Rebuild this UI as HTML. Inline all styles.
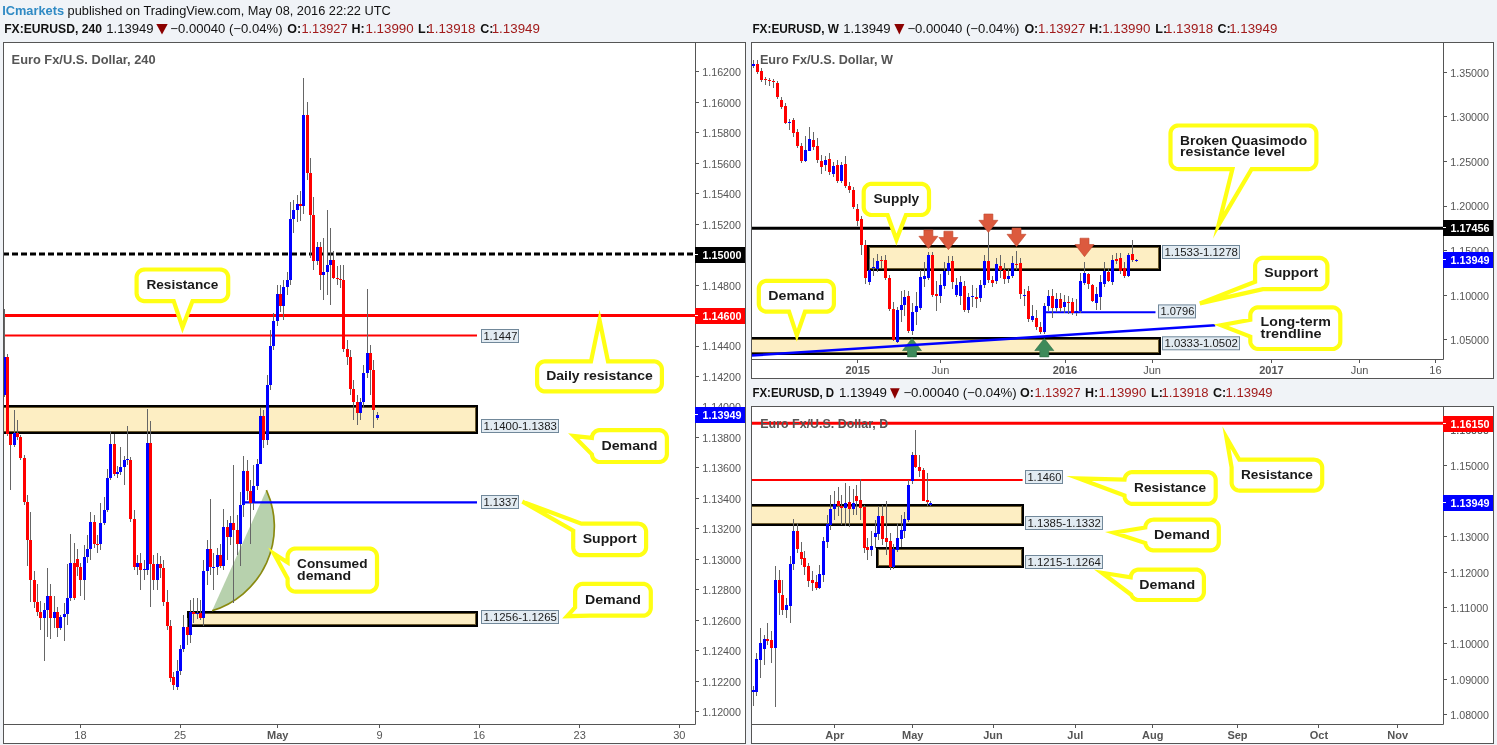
<!DOCTYPE html><html><head><meta charset="utf-8"><style>html,body{margin:0;padding:0;overflow:hidden;background:#f0f3f7;}svg{display:block;will-change:transform;}</style></head><body><svg width="1497" height="745" viewBox="0 0 1497 745" font-family="Liberation Sans, sans-serif">
<defs><clipPath id="cL"><rect x="4" y="43" width="691" height="681"/></clipPath><clipPath id="cW"><rect x="752" y="43" width="691" height="316"/></clipPath><clipPath id="cD"><rect x="752" y="407" width="691" height="317"/></clipPath></defs>
<rect width="1497" height="745" fill="#f0f3f7"/>
<rect x="3.5" y="42.5" width="742" height="701" fill="#fff" stroke="#555" stroke-width="1"/><path d="M695.5 42V724.5H3" stroke="#555" stroke-width="1" fill="none"/>
<g clip-path="url(#cL)">
<rect x="-10" y="405" width="488" height="29" fill="#fdeec3"/><rect x="-9" y="406" width="486" height="27" fill="none" stroke="#000" stroke-width="2"/><rect x="-7.5" y="407.5" width="483" height="24" fill="none" stroke="#6b5a2e" stroke-width="1"/>
<rect x="187" y="611" width="291" height="16" fill="#fdeec3"/><rect x="188" y="612" width="289" height="14" fill="none" stroke="#000" stroke-width="2"/><rect x="189.5" y="613.5" width="286" height="11" fill="none" stroke="#6b5a2e" stroke-width="1"/>
<path d="M3 254H695" stroke="#000" stroke-width="3" stroke-dasharray="6 3"/>
<path d="M3 315.5H695" stroke="#ff0000" stroke-width="3"/>
<path d="M3 335.5H477" stroke="#ff0000" stroke-width="2"/>
<path d="M266.4 490.1 A88 88 0 0 1 212.1 610.8 Z" fill="#5f9a4a" fill-opacity="0.45"/>
<path d="M266.4 490.1 A88 88 0 0 1 212.1 610.8" fill="none" stroke="#8a8a10" stroke-width="1.7"/>
<path d="M243 502.4H477" stroke="#0000ff" stroke-width="2.4"/>
<path d="M4.5 309V397M7.5 354V436M10.5 436V490M14.5 410V447M17.5 420V440M20.5 435V460M24.5 455V505M27.5 495V566M30.5 512V602M34.5 571V608M37.5 584V616M40.5 601V630M44.5 603V661M47.5 568V637M50.5 584V639M54.5 596V628M57.5 607V637M60.5 615V630M64.5 603V641M67.5 564V625M70.5 534V601M74.5 543V600M77.5 549V576M80.5 563V596M84.5 545V600M87.5 535V563M90.5 512V560M94.5 515V548M97.5 535V553M100.5 503V550M104.5 497V525M107.5 469V512M110.5 431V480M114.5 434V476M117.5 466V478M120.5 447V475M124.5 456V485M127.5 426V465M130.5 457V522M134.5 510V570M137.5 555V575M140.5 553V590M144.5 560V580M147.5 409V575M150.5 421V607M153.5 555V590M157.5 553V590M160.5 556V578M163.5 560V606M167.5 590V630M170.5 620V682M173.5 672V690M177.5 660V690M180.5 645V675M183.5 615V652M187.5 618V645M190.5 600V643M193.5 598V623M197.5 598V619M200.5 600V620M203.5 560V626M207.5 540V585M210.5 499V575M213.5 553V590M217.5 548V575M220.5 544V568M223.5 509V570M227.5 520V560M230.5 516V545M233.5 465V603M237.5 515V555M240.5 492V566M243.5 456V517M247.5 460V500M250.5 480V544M253.5 465V510M257.5 459V490M260.5 408V453M263.5 410V448M267.5 375V445M270.5 330V390M273.5 313V350M277.5 285V326M280.5 285V312M283.5 280V320M287.5 272V295M290.5 202V285M293.5 200V233M297.5 195V222M300.5 191V221M303.5 78V214M307.5 102V180M310.5 158V258M313.5 197V270M317.5 242V265M320.5 242V290M323.5 238V300M327.5 210V295M330.5 228V305M333.5 251V279M337.5 266V285M340.5 265V288M343.5 265V352M347.5 340V365M350.5 350V395M353.5 380V420M357.5 395V425M360.5 398V420M363.5 365V408M367.5 289V378M370.5 345V395M373.5 360V428M377.5 412V420" stroke="#666" stroke-width="1" fill="none"/>
<path d="M3 357h3v38h-3zM13 433h3v12h-3zM43 610h3v8h-3zM46 596h3v14h-3zM53 612h3v6h-3zM59 617h3v11h-3zM63 614h3v3h-3zM66 598h3v16h-3zM69 563h3v35h-3zM83 557h3v23h-3zM86 549h3v8h-3zM89 522h3v27h-3zM99 523h3v21h-3zM103 510h3v13h-3zM106 478h3v32h-3zM109 444h3v34h-3zM116 472h3v2h-3zM119 467h3v5h-3zM123 460h3v7h-3zM126 459h3v1h-3zM136 563h3v4h-3zM143 569h3v1h-3zM146 443h3v127h-3zM156 564h3v16h-3zM176 671h3v16h-3zM179 649h3v22h-3zM182 627h3v22h-3zM189 612h3v23h-3zM196 613h3v1h-3zM202 571h3v47h-3zM206 549h3v22h-3zM212 567h3v1h-3zM216 555h3v12h-3zM222 527h3v39h-3zM229 523h3v14h-3zM239 505h3v39h-3zM242 471h3v34h-3zM252 486h3v17h-3zM256 464h3v22h-3zM259 416h3v48h-3zM266 385h3v55h-3zM269 346h3v39h-3zM272 321h3v25h-3zM276 294h3v27h-3zM282 287h3v19h-3zM286 280h3v7h-3zM289 219h3v61h-3zM292 210h3v9h-3zM296 204h3v6h-3zM302 115h3v91h-3zM316 247h3v14h-3zM322 272h3v3h-3zM326 265h3v7h-3zM329 260h3v5h-3zM359 402h3v11h-3zM362 373h3v29h-3zM366 353h3v20h-3zM376 415h3v3h-3z" fill="#0000ff"/>
<path d="M6 357h3v77h-3zM9 434h3v11h-3zM16 433h3v4h-3zM19 437h3v21h-3zM23 458h3v44h-3zM26 502h3v38h-3zM29 540h3v40h-3zM33 580h3v22h-3zM36 602h3v10h-3zM39 612h3v6h-3zM49 596h3v22h-3zM56 612h3v16h-3zM73 563h3v35h-3zM76 559h3v8h-3zM79 567h3v13h-3zM93 522h3v22h-3zM96 544h3v1h-3zM113 444h3v30h-3zM129 460h3v59h-3zM133 519h3v48h-3zM139 563h3v7h-3zM149 443h3v121h-3zM152 564h3v16h-3zM159 564h3v4h-3zM162 568h3v34h-3zM166 602h3v24h-3zM169 626h3v52h-3zM172 677h3v8h-3zM186 627h3v8h-3zM192 612h3v2h-3zM199 613h3v5h-3zM209 549h3v18h-3zM219 555h3v11h-3zM226 527h3v10h-3zM232 523h3v7h-3zM236 530h3v14h-3zM246 471h3v20h-3zM249 491h3v12h-3zM262 416h3v24h-3zM279 294h3v12h-3zM299 204h3v2h-3zM306 115h3v58h-3zM309 173h3v42h-3zM312 215h3v46h-3zM319 247h3v28h-3zM332 260h3v18h-3zM336 278h3v1h-3zM339 279h3v1h-3zM342 280h3v69h-3zM346 349h3v8h-3zM349 357h3v32h-3zM352 389h3v13h-3zM356 402h3v11h-3zM369 353h3v17h-3zM372 370h3v40h-3z" fill="#ff0000"/>
<text x="11.6" y="63.8" font-size="12.8" font-weight="bold" fill="#555" textLength="144" lengthAdjust="spacingAndGlyphs">Euro Fx/U.S. Dollar, 240</text>
<path d="M173.70 301.10 L172.21 301.10 L170.72 301.10 L169.24 301.10 L167.75 301.10 L166.26 301.10 L164.77 301.10 L163.29 301.10 L161.80 301.10 L160.31 301.10 L158.82 301.10 L157.34 301.10 L155.85 301.10 L154.36 301.10 L152.87 301.10 L151.39 301.10 L149.90 301.10 L148.41 301.10 L146.92 301.10 L145.44 301.10 L144.09 301.08 L142.93 300.92 L141.81 300.60 L140.75 300.11 L139.77 299.48 L138.89 298.71 L138.14 297.82 L137.52 296.83 L137.05 295.76 L136.75 294.63 L136.61 293.47 L136.60 292.08 L136.60 290.60 L136.60 289.11 L136.60 287.62 L136.60 286.13 L136.60 284.65 L136.60 283.16 L136.60 281.67 L136.60 280.18 L136.60 278.70 L136.60 277.27 L136.72 276.11 L137.01 274.98 L137.46 273.90 L138.06 272.90 L138.79 272.00 L139.66 271.21 L140.63 270.56 L141.68 270.05 L142.79 269.71 L143.95 269.53 L145.25 269.50 L146.74 269.50 L148.23 269.50 L149.72 269.50 L151.20 269.50 L152.69 269.50 L154.18 269.50 L155.67 269.50 L157.15 269.50 L158.64 269.50 L160.13 269.50 L161.62 269.50 L163.11 269.50 L164.59 269.50 L166.08 269.50 L167.57 269.50 L169.06 269.50 L170.54 269.50 L172.03 269.50 L173.52 269.50 L175.01 269.50 L176.49 269.50 L177.98 269.50 L179.47 269.50 L180.96 269.50 L182.44 269.50 L183.93 269.50 L185.42 269.50 L186.91 269.50 L188.39 269.50 L189.88 269.50 L191.37 269.50 L192.86 269.50 L194.34 269.50 L195.83 269.50 L197.32 269.50 L198.81 269.50 L200.29 269.50 L201.78 269.50 L203.27 269.50 L204.76 269.50 L206.25 269.50 L207.73 269.50 L209.22 269.50 L210.71 269.50 L212.20 269.50 L213.68 269.50 L215.17 269.50 L216.66 269.50 L218.15 269.50 L219.63 269.50 L220.92 269.53 L222.07 269.72 L223.19 270.08 L224.23 270.59 L225.20 271.25 L226.05 272.05 L226.78 272.96 L227.38 273.96 L227.81 275.04 L228.09 276.18 L228.20 277.34 L228.20 278.78 L228.20 280.27 L228.20 281.76 L228.20 283.25 L228.20 284.73 L228.20 286.22 L228.20 287.71 L228.20 289.20 L228.20 290.68 L228.20 292.17 L228.19 293.54 L228.04 294.70 L227.72 295.82 L227.25 296.89 L226.62 297.87 L225.86 298.76 L224.97 299.52 L223.99 300.15 L222.92 300.62 L221.80 300.94 L220.64 301.09 L219.28 301.10 L217.79 301.10 L216.30 301.10 L214.81 301.10 L213.33 301.10 L211.84 301.10 L210.35 301.10 L208.86 301.10 L207.38 301.10 L205.89 301.10 L204.40 301.10 L202.91 301.10 L201.43 301.10 L199.94 301.10 L198.45 301.10 L196.96 301.10 L195.48 301.10 L193.99 301.10 L192.50 301.10 L182.52 327.26 Z" fill="#fff" stroke="#ffff14" stroke-width="4.2" stroke-linejoin="miter" stroke-miterlimit="10"/>
<text x="182.4" y="289.0" font-size="12.5" font-weight="bold" fill="#1a1a1a" text-anchor="middle" textLength="72" lengthAdjust="spacingAndGlyphs">Resistance</text>
<path d="M608.00 361.40 L609.49 361.40 L610.97 361.40 L612.46 361.40 L613.94 361.40 L615.43 361.40 L616.91 361.40 L618.40 361.40 L619.88 361.40 L621.37 361.40 L622.85 361.40 L624.34 361.40 L625.82 361.40 L627.31 361.40 L628.79 361.40 L630.28 361.40 L631.76 361.40 L633.25 361.40 L634.74 361.40 L636.22 361.40 L637.71 361.40 L639.19 361.40 L640.68 361.40 L642.16 361.40 L643.65 361.40 L645.13 361.40 L646.62 361.40 L648.10 361.40 L649.59 361.40 L651.07 361.40 L652.56 361.40 L654.01 361.40 L655.17 361.50 L656.31 361.77 L657.39 362.20 L658.40 362.79 L659.31 363.51 L660.11 364.36 L660.78 365.31 L661.30 366.36 L661.66 367.46 L661.86 368.61 L661.90 369.88 L661.90 371.37 L661.90 372.85 L661.90 374.34 L661.90 375.82 L661.90 377.31 L661.90 378.79 L661.90 380.28 L661.90 381.76 L661.90 383.25 L661.83 384.45 L661.60 385.59 L661.20 386.68 L660.64 387.71 L659.94 388.64 L659.12 389.46 L658.18 390.16 L657.16 390.71 L656.06 391.10 L654.92 391.34 L653.71 391.40 L652.23 391.40 L650.74 391.40 L649.26 391.40 L647.77 391.40 L646.29 391.40 L644.80 391.40 L643.32 391.40 L641.83 391.40 L640.35 391.40 L638.86 391.40 L637.37 391.40 L635.89 391.40 L634.40 391.40 L632.92 391.40 L631.43 391.40 L629.95 391.40 L628.46 391.40 L626.98 391.40 L625.49 391.40 L624.01 391.40 L622.52 391.40 L621.04 391.40 L619.55 391.40 L618.07 391.40 L616.58 391.40 L615.10 391.40 L613.61 391.40 L612.12 391.40 L610.64 391.40 L609.15 391.40 L607.67 391.40 L606.18 391.40 L604.70 391.40 L603.21 391.40 L601.73 391.40 L600.24 391.40 L598.76 391.40 L597.27 391.40 L595.79 391.40 L594.30 391.40 L592.82 391.40 L591.33 391.40 L589.85 391.40 L588.36 391.40 L586.88 391.40 L585.39 391.40 L583.90 391.40 L582.42 391.40 L580.93 391.40 L579.45 391.40 L577.96 391.40 L576.48 391.40 L574.99 391.40 L573.51 391.40 L572.02 391.40 L570.54 391.40 L569.05 391.40 L567.57 391.40 L566.08 391.40 L564.60 391.40 L563.11 391.40 L561.63 391.40 L560.14 391.40 L558.65 391.40 L557.17 391.40 L555.68 391.40 L554.20 391.40 L552.71 391.40 L551.23 391.40 L549.74 391.40 L548.26 391.40 L546.77 391.40 L545.29 391.40 L544.08 391.34 L542.94 391.10 L541.84 390.71 L540.82 390.16 L539.88 389.46 L539.06 388.64 L538.36 387.71 L537.80 386.68 L537.40 385.59 L537.17 384.45 L537.10 383.25 L537.10 381.76 L537.10 380.28 L537.10 378.79 L537.10 377.31 L537.10 375.82 L537.10 374.34 L537.10 372.85 L537.10 371.37 L537.10 369.88 L537.14 368.61 L537.34 367.46 L537.70 366.36 L538.22 365.31 L538.89 364.36 L539.69 363.51 L540.60 362.79 L541.61 362.20 L542.69 361.77 L543.83 361.50 L544.99 361.40 L546.44 361.40 L547.93 361.40 L549.41 361.40 L550.90 361.40 L552.38 361.40 L553.87 361.40 L555.35 361.40 L556.84 361.40 L558.32 361.40 L559.81 361.40 L561.29 361.40 L562.78 361.40 L564.26 361.40 L565.75 361.40 L567.24 361.40 L568.72 361.40 L570.21 361.40 L571.69 361.40 L573.18 361.40 L574.66 361.40 L576.15 361.40 L577.63 361.40 L579.12 361.40 L580.60 361.40 L582.09 361.40 L583.57 361.40 L585.06 361.40 L586.54 361.40 L588.03 361.40 L589.51 361.40 L591.00 361.40 L599.58 320.15 Z" fill="#fff" stroke="#ffff14" stroke-width="4.2" stroke-linejoin="miter" stroke-miterlimit="10"/>
<text x="599.5" y="380.1" font-size="12.5" font-weight="bold" fill="#1a1a1a" text-anchor="middle" textLength="106.6" lengthAdjust="spacingAndGlyphs">Daily resistance</text>
<path d="M591.90 437.86 L592.02 436.71 L592.31 435.58 L592.75 434.51 L593.35 433.51 L594.08 432.61 L594.94 431.82 L595.90 431.17 L596.95 430.66 L598.06 430.31 L599.21 430.13 L600.50 430.10 L601.98 430.10 L603.47 430.10 L604.95 430.10 L606.43 430.10 L607.91 430.10 L609.39 430.10 L610.88 430.10 L612.36 430.10 L613.84 430.10 L615.32 430.10 L616.80 430.10 L618.28 430.10 L619.77 430.10 L621.25 430.10 L622.73 430.10 L624.21 430.10 L625.69 430.10 L627.18 430.10 L628.66 430.10 L630.14 430.10 L631.62 430.10 L633.10 430.10 L634.59 430.10 L636.07 430.10 L637.55 430.10 L639.03 430.10 L640.51 430.10 L642.00 430.10 L643.48 430.10 L644.96 430.10 L646.44 430.10 L647.92 430.10 L649.41 430.10 L650.89 430.10 L652.37 430.10 L653.85 430.10 L655.33 430.10 L656.82 430.10 L658.30 430.10 L659.59 430.13 L660.74 430.31 L661.85 430.66 L662.89 431.17 L663.86 431.82 L664.72 432.61 L665.45 433.51 L666.05 434.51 L666.49 435.58 L666.78 436.71 L666.90 437.86 L666.90 439.28 L666.90 440.76 L666.90 442.25 L666.90 443.73 L666.90 445.21 L666.90 446.69 L666.90 448.17 L666.90 449.65 L666.90 451.14 L666.90 452.62 L666.90 454.08 L666.80 455.24 L666.54 456.37 L666.12 457.45 L665.54 458.46 L664.82 459.38 L663.98 460.18 L663.03 460.85 L661.99 461.38 L660.89 461.75 L659.75 461.96 L658.50 462.00 L657.02 462.00 L655.53 462.00 L654.05 462.00 L652.57 462.00 L651.09 462.00 L649.61 462.00 L648.12 462.00 L646.64 462.00 L645.16 462.00 L643.68 462.00 L642.20 462.00 L640.71 462.00 L639.23 462.00 L637.75 462.00 L636.27 462.00 L634.79 462.00 L633.30 462.00 L631.82 462.00 L630.34 462.00 L628.86 462.00 L627.38 462.00 L625.89 462.00 L624.41 462.00 L622.93 462.00 L621.45 462.00 L619.97 462.00 L618.48 462.00 L617.00 462.00 L615.52 462.00 L614.04 462.00 L612.56 462.00 L611.08 462.00 L609.59 462.00 L608.11 462.00 L606.63 462.00 L605.15 462.00 L603.67 462.00 L602.18 462.00 L600.70 462.00 L599.37 461.98 L598.21 461.82 L597.10 461.49 L596.04 461.01 L595.07 460.37 L594.19 459.61 L593.44 458.72 L592.82 457.73 L592.36 456.67 L592.05 455.55 L591.91 454.39 L573.68 436.00 Z" fill="#fff" stroke="#ffff14" stroke-width="4.2" stroke-linejoin="miter" stroke-miterlimit="10"/>
<text x="629.4" y="449.8" font-size="12.5" font-weight="bold" fill="#1a1a1a" text-anchor="middle" textLength="56" lengthAdjust="spacingAndGlyphs">Demand</text>
<path d="M581.40 523.70 L582.88 523.70 L584.36 523.70 L585.84 523.70 L587.32 523.70 L588.80 523.70 L590.28 523.70 L591.76 523.70 L593.24 523.70 L594.72 523.70 L596.20 523.70 L597.68 523.70 L599.16 523.70 L600.64 523.70 L602.12 523.70 L603.60 523.70 L605.08 523.70 L606.56 523.70 L608.04 523.70 L609.52 523.70 L611.00 523.70 L612.48 523.70 L613.96 523.70 L615.44 523.70 L616.92 523.70 L618.40 523.70 L619.88 523.70 L621.36 523.70 L622.84 523.70 L624.32 523.70 L625.80 523.70 L627.28 523.70 L628.76 523.70 L630.25 523.70 L631.73 523.70 L633.21 523.70 L634.69 523.70 L636.17 523.70 L637.65 523.70 L638.90 523.74 L640.05 523.94 L641.15 524.30 L642.19 524.82 L643.14 525.49 L643.99 526.29 L644.71 527.19 L645.29 528.20 L645.72 529.28 L645.99 530.41 L646.10 531.56 L646.10 533.01 L646.10 534.49 L646.10 535.97 L646.10 537.45 L646.10 538.93 L646.10 540.41 L646.10 541.89 L646.10 543.37 L646.10 544.85 L646.10 546.33 L646.09 547.68 L645.93 548.83 L645.61 549.95 L645.14 551.01 L644.51 551.98 L643.75 552.86 L642.87 553.62 L641.89 554.24 L640.83 554.72 L639.71 555.04 L638.56 555.19 L637.21 555.20 L635.73 555.20 L634.25 555.20 L632.77 555.20 L631.29 555.20 L629.81 555.20 L628.33 555.20 L626.85 555.20 L625.37 555.20 L623.89 555.20 L622.41 555.20 L620.93 555.20 L619.45 555.20 L617.97 555.20 L616.49 555.20 L615.01 555.20 L613.53 555.20 L612.05 555.20 L610.57 555.20 L609.09 555.20 L607.61 555.20 L606.13 555.20 L604.65 555.20 L603.17 555.20 L601.69 555.20 L600.21 555.20 L598.73 555.20 L597.25 555.20 L595.76 555.20 L594.28 555.20 L592.80 555.20 L591.32 555.20 L589.84 555.20 L588.36 555.20 L586.88 555.20 L585.40 555.20 L583.92 555.20 L582.44 555.20 L581.01 555.20 L579.86 555.09 L578.73 554.81 L577.65 554.37 L576.65 553.78 L575.75 553.05 L574.96 552.20 L574.30 551.25 L573.79 550.20 L573.43 549.10 L573.24 547.95 L573.20 546.68 L573.20 545.20 L573.20 543.72 L573.20 542.24 L573.20 540.76 L573.20 539.28 L573.20 537.80 L573.20 536.32 L573.20 534.84 L573.20 533.36 L573.20 531.88 L573.27 530.68 L522.42 501.64 Z" fill="#fff" stroke="#ffff14" stroke-width="4.2" stroke-linejoin="miter" stroke-miterlimit="10"/>
<text x="609.6500000000001" y="543.2" font-size="12.5" font-weight="bold" fill="#1a1a1a" text-anchor="middle" textLength="54" lengthAdjust="spacingAndGlyphs">Support</text>
<path d="M287.60 562.50 L287.60 561.01 L287.60 559.52 L287.60 558.03 L287.60 556.54 L287.68 555.36 L287.93 554.22 L288.35 553.13 L288.91 552.11 L289.63 551.18 L290.47 550.36 L291.42 549.68 L292.46 549.14 L293.56 548.76 L294.71 548.55 L295.96 548.50 L297.45 548.50 L298.94 548.50 L300.43 548.50 L301.92 548.50 L303.41 548.50 L304.90 548.50 L306.39 548.50 L307.88 548.50 L309.37 548.50 L310.86 548.50 L312.35 548.50 L313.84 548.50 L315.33 548.50 L316.82 548.50 L318.31 548.50 L319.80 548.50 L321.29 548.50 L322.78 548.50 L324.27 548.50 L325.76 548.50 L327.26 548.50 L328.75 548.50 L330.24 548.50 L331.73 548.50 L333.22 548.50 L334.71 548.50 L336.20 548.50 L337.69 548.50 L339.18 548.50 L340.67 548.50 L342.16 548.50 L343.65 548.50 L345.14 548.50 L346.63 548.50 L348.12 548.50 L349.61 548.50 L351.10 548.50 L352.59 548.50 L354.08 548.50 L355.57 548.50 L357.06 548.50 L358.55 548.50 L360.04 548.50 L361.53 548.50 L363.03 548.50 L364.52 548.50 L366.01 548.50 L367.50 548.50 L368.99 548.50 L370.16 548.58 L371.30 548.84 L372.39 549.25 L373.41 549.83 L374.34 550.54 L375.15 551.38 L375.83 552.33 L376.36 553.37 L376.74 554.48 L376.95 555.63 L377.00 556.88 L377.00 558.37 L377.00 559.86 L377.00 561.35 L377.00 562.84 L377.00 564.33 L377.00 565.82 L377.00 567.31 L377.00 568.80 L377.00 570.30 L377.00 571.79 L377.00 573.28 L377.00 574.77 L377.00 576.26 L377.00 577.75 L377.00 579.24 L377.00 580.73 L377.00 582.22 L377.00 583.69 L376.90 584.85 L376.63 585.99 L376.20 587.08 L375.62 588.09 L374.90 589.01 L374.04 589.81 L373.08 590.48 L372.04 591.00 L370.93 591.36 L369.77 591.56 L368.50 591.60 L367.01 591.60 L365.52 591.60 L364.03 591.60 L362.53 591.60 L361.04 591.60 L359.55 591.60 L358.06 591.60 L356.57 591.60 L355.08 591.60 L353.59 591.60 L352.10 591.60 L350.61 591.60 L349.12 591.60 L347.63 591.60 L346.14 591.60 L344.65 591.60 L343.16 591.60 L341.67 591.60 L340.18 591.60 L338.69 591.60 L337.20 591.60 L335.71 591.60 L334.22 591.60 L332.73 591.60 L331.24 591.60 L329.75 591.60 L328.26 591.60 L326.76 591.60 L325.27 591.60 L323.78 591.60 L322.29 591.60 L320.80 591.60 L319.31 591.60 L317.82 591.60 L316.33 591.60 L314.84 591.60 L313.35 591.60 L311.86 591.60 L310.37 591.60 L308.88 591.60 L307.39 591.60 L305.90 591.60 L304.41 591.60 L302.92 591.60 L301.43 591.60 L299.94 591.60 L298.45 591.60 L296.96 591.60 L295.49 591.60 L294.33 591.50 L293.19 591.23 L292.10 590.80 L291.09 590.21 L290.18 589.48 L289.38 588.63 L288.71 587.67 L288.19 586.62 L287.83 585.51 L287.64 584.35 L287.60 583.07 L287.60 581.58 L287.60 580.09 L287.60 578.60 L273.97 553.75 Z" fill="#fff" stroke="#ffff14" stroke-width="4.2" stroke-linejoin="miter" stroke-miterlimit="10"/>
<text x="297.1" y="568.0" font-size="12.5" font-weight="bold" fill="#1a1a1a" text-anchor="start" textLength="70.4" lengthAdjust="spacingAndGlyphs">Consumed</text>
<text x="297.1" y="579.5" font-size="12.5" font-weight="bold" fill="#1a1a1a" text-anchor="start" textLength="54" lengthAdjust="spacingAndGlyphs">demand</text>
<path d="M575.10 607.50 L575.10 606.02 L575.10 604.54 L575.10 603.07 L575.10 601.59 L575.10 600.11 L575.10 598.63 L575.10 597.16 L575.10 595.68 L575.10 594.20 L575.10 592.72 L575.11 591.36 L575.26 590.21 L575.57 589.10 L576.04 588.04 L576.66 587.06 L577.41 586.17 L578.28 585.41 L579.26 584.78 L580.31 584.30 L581.43 583.98 L582.58 583.82 L583.91 583.80 L585.39 583.80 L586.86 583.80 L588.34 583.80 L589.82 583.80 L591.30 583.80 L592.78 583.80 L594.25 583.80 L595.73 583.80 L597.21 583.80 L598.69 583.80 L600.16 583.80 L601.64 583.80 L603.12 583.80 L604.60 583.80 L606.07 583.80 L607.55 583.80 L609.03 583.80 L610.51 583.80 L611.99 583.80 L613.46 583.80 L614.94 583.80 L616.42 583.80 L617.90 583.80 L619.37 583.80 L620.85 583.80 L622.33 583.80 L623.81 583.80 L625.28 583.80 L626.76 583.80 L628.24 583.80 L629.72 583.80 L631.20 583.80 L632.67 583.80 L634.15 583.80 L635.63 583.80 L637.11 583.80 L638.58 583.80 L640.06 583.80 L641.54 583.80 L642.97 583.80 L644.12 583.91 L645.25 584.18 L646.33 584.62 L647.33 585.20 L648.23 585.93 L649.03 586.78 L649.69 587.73 L650.20 588.77 L650.56 589.87 L650.76 591.01 L650.80 592.27 L650.80 593.75 L650.80 595.23 L650.80 596.70 L650.80 598.18 L650.80 599.66 L650.80 601.14 L650.80 602.62 L650.80 604.09 L650.80 605.57 L650.80 607.05 L650.77 608.35 L650.60 609.49 L650.25 610.60 L649.76 611.65 L649.11 612.61 L648.34 613.47 L647.44 614.21 L646.45 614.82 L645.39 615.27 L644.26 615.56 L643.11 615.69 L641.72 615.70 L640.24 615.70 L638.76 615.70 L637.29 615.70 L635.81 615.70 L634.33 615.70 L632.85 615.70 L631.38 615.70 L629.90 615.70 L628.42 615.70 L626.94 615.70 L625.46 615.70 L623.99 615.70 L622.51 615.70 L621.03 615.70 L619.55 615.70 L618.08 615.70 L616.60 615.70 L615.12 615.70 L613.64 615.70 L612.17 615.70 L610.69 615.70 L609.21 615.70 L607.73 615.70 L606.25 615.70 L604.78 615.70 L603.30 615.70 L601.82 615.70 L600.34 615.70 L598.87 615.70 L597.39 615.70 L595.91 615.70 L594.43 615.70 L592.96 615.70 L591.48 615.70 L590.00 615.70 L567.03 616.21 Z" fill="#fff" stroke="#ffff14" stroke-width="4.2" stroke-linejoin="miter" stroke-miterlimit="10"/>
<text x="612.95" y="603.5" font-size="12.5" font-weight="bold" fill="#1a1a1a" text-anchor="middle" textLength="56" lengthAdjust="spacingAndGlyphs">Demand</text>
<rect x="481.5" y="329.5" width="37" height="13" fill="#e2ebf2" stroke="#71889a" stroke-width="1"/><text x="483.4" y="340" font-size="10.2" fill="#1a1a1a" textLength="34" lengthAdjust="spacingAndGlyphs">1.1447</text>
<rect x="481.5" y="419.5" width="77" height="13" fill="#e2ebf2" stroke="#71889a" stroke-width="1"/><text x="483.4" y="430" font-size="10.2" fill="#1a1a1a" textLength="73.5" lengthAdjust="spacingAndGlyphs">1.1400-1.1383</text>
<rect x="481.5" y="495.5" width="37" height="13" fill="#e2ebf2" stroke="#71889a" stroke-width="1"/><text x="483.4" y="506" font-size="10.2" fill="#1a1a1a" textLength="34" lengthAdjust="spacingAndGlyphs">1.1337</text>
<rect x="481.5" y="610.5" width="77" height="13" fill="#e2ebf2" stroke="#71889a" stroke-width="1"/><text x="483.4" y="621" font-size="10.2" fill="#1a1a1a" textLength="73.5" lengthAdjust="spacingAndGlyphs">1.1256-1.1265</text>
</g>
<path d="M695 711.5h4" stroke="#555" stroke-width="1"/>
<text x="702.3" y="716.0859999999972" font-size="10.7" fill="#555">1.12000</text>
<path d="M695 681.5h4" stroke="#555" stroke-width="1"/>
<text x="702.3" y="685.6199999999972" font-size="10.7" fill="#555">1.12200</text>
<path d="M695 650.5h4" stroke="#555" stroke-width="1"/>
<text x="702.3" y="655.153999999997" font-size="10.7" fill="#555">1.12400</text>
<path d="M695 620.5h4" stroke="#555" stroke-width="1"/>
<text x="702.3" y="624.687999999997" font-size="10.7" fill="#555">1.12600</text>
<path d="M695 589.5h4" stroke="#555" stroke-width="1"/>
<text x="702.3" y="594.221999999997" font-size="10.7" fill="#555">1.12800</text>
<path d="M695 559.5h4" stroke="#555" stroke-width="1"/>
<text x="702.3" y="563.755999999997" font-size="10.7" fill="#555">1.13000</text>
<path d="M695 528.5h4" stroke="#555" stroke-width="1"/>
<text x="702.3" y="533.289999999997" font-size="10.7" fill="#555">1.13200</text>
<path d="M695 498.5h4" stroke="#555" stroke-width="1"/>
<text x="702.3" y="502.823999999997" font-size="10.7" fill="#555">1.13400</text>
<path d="M695 467.5h4" stroke="#555" stroke-width="1"/>
<text x="702.3" y="472.357999999997" font-size="10.7" fill="#555">1.13600</text>
<path d="M695 437.5h4" stroke="#555" stroke-width="1"/>
<text x="702.3" y="441.89199999999687" font-size="10.7" fill="#555">1.13800</text>
<path d="M695 407.5h4" stroke="#555" stroke-width="1"/>
<text x="702.3" y="411.42599999999686" font-size="10.7" fill="#555">1.14000</text>
<path d="M695 376.5h4" stroke="#555" stroke-width="1"/>
<text x="702.3" y="380.95999999999685" font-size="10.7" fill="#555">1.14200</text>
<path d="M695 346.5h4" stroke="#555" stroke-width="1"/>
<text x="702.3" y="350.49399999999684" font-size="10.7" fill="#555">1.14400</text>
<path d="M695 285.5h4" stroke="#555" stroke-width="1"/>
<text x="702.3" y="289.56199999999683" font-size="10.7" fill="#555">1.14800</text>
<path d="M695 224.5h4" stroke="#555" stroke-width="1"/>
<text x="702.3" y="228.62999999999676" font-size="10.7" fill="#555">1.15200</text>
<path d="M695 193.5h4" stroke="#555" stroke-width="1"/>
<text x="702.3" y="198.16399999999672" font-size="10.7" fill="#555">1.15400</text>
<path d="M695 163.5h4" stroke="#555" stroke-width="1"/>
<text x="702.3" y="167.6979999999967" font-size="10.7" fill="#555">1.15600</text>
<path d="M695 132.5h4" stroke="#555" stroke-width="1"/>
<text x="702.3" y="137.23199999999667" font-size="10.7" fill="#555">1.15800</text>
<path d="M695 102.5h4" stroke="#555" stroke-width="1"/>
<text x="702.3" y="106.76599999999665" font-size="10.7" fill="#555">1.16000</text>
<path d="M695 71.5h4" stroke="#555" stroke-width="1"/>
<text x="702.3" y="76.29999999999663" font-size="10.7" fill="#555">1.16200</text>
<rect x="695" y="247" width="50" height="16" fill="#000"/><path d="M695 254.5h3" stroke="#fff" stroke-width="1"/><text x="702.4" y="259" font-size="10.8" font-weight="bold" fill="#fff">1.15000</text>
<rect x="695" y="308" width="50" height="16" fill="#ff0000"/><path d="M695 315.5h3" stroke="#fff" stroke-width="1"/><text x="702.4" y="320" font-size="10.8" font-weight="bold" fill="#fff">1.14600</text>
<rect x="695" y="407" width="50" height="16" fill="#0000ff"/><path d="M695 414.5h3" stroke="#fff" stroke-width="1"/><text x="702.4" y="419" font-size="10.8" font-weight="bold" fill="#fff">1.13949</text>
<path d="M80.5 724v4" stroke="#555" stroke-width="1"/>
<text x="80.4" y="739" font-size="11" fill="#555" text-anchor="middle">18</text>
<path d="M180.5 724v4" stroke="#555" stroke-width="1"/>
<text x="180" y="739" font-size="11" fill="#555" text-anchor="middle">25</text>
<path d="M277.5 724v4" stroke="#555" stroke-width="1"/>
<text x="277.7" y="739" font-size="11" fill="#555" text-anchor="middle" font-weight="bold">May</text>
<path d="M379.5 724v4" stroke="#555" stroke-width="1"/>
<text x="379.6" y="739" font-size="11" fill="#555" text-anchor="middle">9</text>
<path d="M479.5 724v4" stroke="#555" stroke-width="1"/>
<text x="479" y="739" font-size="11" fill="#555" text-anchor="middle">16</text>
<path d="M579.5 724v4" stroke="#555" stroke-width="1"/>
<text x="579.7" y="739" font-size="11" fill="#555" text-anchor="middle">23</text>
<path d="M679.5 724v4" stroke="#555" stroke-width="1"/>
<text x="679.3" y="739" font-size="11" fill="#555" text-anchor="middle">30</text>
<rect x="751.5" y="42.5" width="742" height="336" fill="#fff" stroke="#555" stroke-width="1"/><path d="M1443.5 42V359.5H751" stroke="#555" stroke-width="1" fill="none"/>
<g clip-path="url(#cW)">
<rect x="867" y="245" width="294" height="26" fill="#fdeec3"/><rect x="868" y="246" width="292" height="24" fill="none" stroke="#000" stroke-width="2"/><rect x="869.5" y="247.5" width="289" height="21" fill="none" stroke="#6b5a2e" stroke-width="1"/>
<rect x="740" y="337" width="421" height="18" fill="#fdeec3"/><rect x="741" y="338" width="419" height="16" fill="none" stroke="#000" stroke-width="2"/><rect x="742.5" y="339.5" width="416" height="13" fill="none" stroke="#6b5a2e" stroke-width="1"/>
<path d="M751 228.3H1443" stroke="#000" stroke-width="3"/>
<path d="M1044.8 312.3H1155.5" stroke="#0000ff" stroke-width="2"/>
<path d="M753.5 60V68M757.5 60V74M761.5 68V82M765.5 77V85M769.5 78V86M773.5 79V88M777.5 81V99M781.5 97V109M785.5 103V124M789.5 119V130M793.5 118V137M797.5 129V148M801.5 143V163M805.5 136V162M809.5 127V151M813.5 132V150M817.5 138V163M821.5 155V174M825.5 156V171M829.5 153V175M833.5 162V177M837.5 160V183M841.5 162V183M845.5 156V188M849.5 182V193M853.5 187V209M857.5 204V226M861.5 216V255M865.5 240V284M869.5 259V285M873.5 258V276M877.5 254V272M881.5 256V268M885.5 255V280M889.5 275V311M893.5 302V341M897.5 307V343M901.5 291V322M904.5 290V316M908.5 291V333M912.5 303V335M916.5 292V325M920.5 270V310M924.5 262V287M928.5 252V280M932.5 252V297M936.5 281V311M940.5 274V303M944.5 262V289M948.5 256V275M952.5 256V289M956.5 278V297M960.5 276V305M964.5 281V312M968.5 293V313M972.5 285V307M976.5 288V308M980.5 280V302M984.5 255V288M988.5 224V283M992.5 276V287M996.5 258V284M1000.5 255V278M1004.5 263V284M1008.5 269V283M1012.5 256V278M1016.5 251V270M1020.5 258V299M1024.5 289V306M1028.5 286V322M1032.5 305V322M1036.5 310V330M1040.5 322V334M1044.5 303V334M1048.5 290V311M1052.5 289V318M1056.5 293V312M1060.5 293V312M1064.5 295V313M1068.5 296V314M1072.5 298V315M1076.5 299V316M1080.5 273V313M1084.5 262V285M1088.5 273V289M1092.5 284V302M1096.5 287V310M1100.5 275V310M1104.5 262V287M1108.5 268V282M1112.5 255V285M1116.5 253V264M1120.5 253V274M1124.5 262V278M1128.5 253V277M1132.5 240V262M1136.5 259V262" stroke="#666" stroke-width="1" fill="none"/>
<path d="M752 64h3v2h-3zM788 122h3v1h-3zM804 150h3v11h-3zM808 139h3v12h-3zM824 160h3v5h-3zM832 166h3v8h-3zM840 165h3v16h-3zM868 270h3v12h-3zM872 267h3v1h-3zM876 261h3v8h-3zM896 310h3v32h-3zM900 305h3v5h-3zM903 297h3v8h-3zM911 312h3v19h-3zM915 306h3v6h-3zM919 277h3v31h-3zM923 276h3v3h-3zM927 255h3v23h-3zM939 285h3v11h-3zM943 271h3v15h-3zM947 263h3v8h-3zM955 285h3v10h-3zM959 282h3v14h-3zM967 297h3v13h-3zM971 296h3v1h-3zM979 285h3v13h-3zM983 261h3v24h-3zM995 264h3v17h-3zM1007 276h3v3h-3zM1011 263h3v13h-3zM1023 295h3v1h-3zM1031 316h3v4h-3zM1043 306h3v26h-3zM1047 296h3v10h-3zM1055 299h3v9h-3zM1063 302h3v5h-3zM1075 311h3v2h-3zM1079 281h3v30h-3zM1083 273h3v10h-3zM1095 294h3v9h-3zM1099 282h3v15h-3zM1103 271h3v13h-3zM1111 260h3v22h-3zM1127 255h3v21h-3zM1135 260h3v1h-3z" fill="#0000ff"/>
<path d="M756 64h3v8h-3zM760 71h3v9h-3zM764 79h3v1h-3zM768 80h3v1h-3zM772 81h3v1h-3zM776 83h3v14h-3zM780 100h3v7h-3zM784 106h3v17h-3zM792 120h3v13h-3zM796 132h3v14h-3zM800 146h3v15h-3zM812 140h3v7h-3zM816 146h3v14h-3zM820 161h3v6h-3zM828 159h3v13h-3zM836 165h3v16h-3zM844 164h3v22h-3zM848 186h3v4h-3zM852 190h3v17h-3zM856 209h3v12h-3zM860 219h3v26h-3zM864 245h3v33h-3zM880 260h3v1h-3zM884 260h3v18h-3zM888 278h3v31h-3zM892 309h3v31h-3zM907 296h3v35h-3zM931 255h3v40h-3zM935 294h3v2h-3zM951 261h3v21h-3zM963 286h3v24h-3zM975 297h3v2h-3zM987 261h3v19h-3zM991 280h3v3h-3zM999 266h3v4h-3zM1003 270h3v9h-3zM1015 264h3v1h-3zM1019 263h3v31h-3zM1027 291h3v28h-3zM1035 318h3v9h-3zM1039 327h3v5h-3zM1051 296h3v12h-3zM1059 299h3v9h-3zM1067 302h3v1h-3zM1071 302h3v11h-3zM1087 274h3v10h-3zM1091 285h3v16h-3zM1107 272h3v9h-3zM1115 259h3v2h-3zM1119 258h3v13h-3zM1123 268h3v8h-3zM1131 254h3v6h-3z" fill="#ff0000"/>
<path d="M923.9 230h9v6.3h5l-9.5 12.2l-9.5 -12.2h5z" fill="#dc5a3e" stroke="#c0482e" stroke-width="0.6"/>
<path d="M943.9 231.2h9v6.3h5l-9.5 12.2l-9.5 -12.2h5z" fill="#dc5a3e" stroke="#c0482e" stroke-width="0.6"/>
<path d="M983.9 214h9v6.3h5l-9.5 12.2l-9.5 -12.2h5z" fill="#dc5a3e" stroke="#c0482e" stroke-width="0.6"/>
<path d="M1012.0 228h9v6.3h5l-9.5 12.2l-9.5 -12.2h5z" fill="#dc5a3e" stroke="#c0482e" stroke-width="0.6"/>
<path d="M1080.0 238.2h9v6.3h5l-9.5 12.2l-9.5 -12.2h5z" fill="#dc5a3e" stroke="#c0482e" stroke-width="0.6"/>
<path d="M907.5 356.9h9v-6.3h5l-9.5 -12.2l-9.5 12.2h5z" fill="#3d8a5a" stroke="#2d6a44" stroke-width="0.6"/>
<path d="M1039.8 356.9h9v-6.3h5l-9.5 -12.2l-9.5 12.2h5z" fill="#3d8a5a" stroke="#2d6a44" stroke-width="0.6"/>
<path d="M751.7 355.5L1215.2 325.3" stroke="#0000ff" stroke-width="2.5"/>
<text x="759.9" y="63.9" font-size="12.8" font-weight="bold" fill="#555" textLength="133" lengthAdjust="spacingAndGlyphs">Euro Fx/U.S. Dollar, W</text>
<path d="M887.60 215.00 L886.12 215.00 L884.64 215.00 L883.16 215.00 L881.68 215.00 L880.20 215.00 L878.72 215.00 L877.24 215.00 L875.76 215.00 L874.28 215.00 L872.79 215.00 L871.40 214.99 L870.24 214.87 L869.12 214.57 L868.05 214.12 L867.06 213.51 L866.16 212.77 L865.38 211.91 L864.74 210.94 L864.24 209.89 L863.90 208.78 L863.73 207.63 L863.70 206.33 L863.70 204.85 L863.70 203.37 L863.70 201.89 L863.70 200.41 L863.70 198.93 L863.70 197.45 L863.70 195.97 L863.70 194.48 L863.70 193.00 L863.70 191.58 L863.82 190.43 L864.10 189.30 L864.54 188.23 L865.14 187.23 L865.87 186.32 L866.72 185.54 L867.68 184.88 L868.73 184.37 L869.83 184.02 L870.98 183.83 L872.26 183.80 L873.74 183.80 L875.22 183.80 L876.70 183.80 L878.18 183.80 L879.66 183.80 L881.14 183.80 L882.63 183.80 L884.11 183.80 L885.59 183.80 L887.07 183.80 L888.55 183.80 L890.03 183.80 L891.51 183.80 L892.99 183.80 L894.47 183.80 L895.95 183.80 L897.43 183.80 L898.91 183.80 L900.39 183.80 L901.87 183.80 L903.35 183.80 L904.83 183.80 L906.31 183.80 L907.79 183.80 L909.27 183.80 L910.76 183.80 L912.24 183.80 L913.72 183.80 L915.20 183.80 L916.68 183.80 L918.16 183.80 L919.64 183.80 L921.09 183.80 L922.25 183.90 L923.38 184.16 L924.46 184.59 L925.47 185.17 L926.38 185.88 L927.18 186.73 L927.85 187.68 L928.38 188.71 L928.75 189.81 L928.96 190.96 L929.00 192.20 L929.00 193.68 L929.00 195.17 L929.00 196.65 L929.00 198.13 L929.00 199.61 L929.00 201.09 L929.00 202.57 L929.00 204.05 L929.00 205.53 L929.00 207.01 L928.91 208.17 L928.66 209.30 L928.25 210.39 L927.68 211.40 L926.97 212.32 L926.14 213.13 L925.20 213.81 L924.17 214.35 L923.07 214.73 L921.93 214.95 L920.71 215.00 L919.22 215.00 L917.74 215.00 L916.26 215.00 L914.78 215.00 L913.30 215.00 L911.82 215.00 L910.34 215.00 L908.86 215.00 L907.38 215.00 L905.90 215.00 L896.46 239.61 Z" fill="#fff" stroke="#ffff14" stroke-width="4.2" stroke-linejoin="miter" stroke-miterlimit="10"/>
<text x="896.35" y="203.1" font-size="12.5" font-weight="bold" fill="#1a1a1a" text-anchor="middle" textLength="45.8" lengthAdjust="spacingAndGlyphs">Supply</text>
<path d="M1232.40 169.10 L1230.91 169.10 L1229.41 169.10 L1227.92 169.10 L1226.43 169.10 L1224.94 169.10 L1223.44 169.10 L1221.95 169.10 L1220.46 169.10 L1218.96 169.10 L1217.47 169.10 L1215.98 169.10 L1214.48 169.10 L1212.99 169.10 L1211.50 169.10 L1210.01 169.10 L1208.51 169.10 L1207.02 169.10 L1205.53 169.10 L1204.03 169.10 L1202.54 169.10 L1201.05 169.10 L1199.56 169.10 L1198.06 169.10 L1196.57 169.10 L1195.08 169.10 L1193.58 169.10 L1192.09 169.10 L1190.60 169.10 L1189.10 169.10 L1187.61 169.10 L1186.12 169.10 L1184.63 169.10 L1183.13 169.10 L1181.64 169.10 L1180.15 169.10 L1178.65 169.10 L1177.45 169.03 L1176.30 168.79 L1175.20 168.39 L1174.18 167.83 L1173.24 167.13 L1172.41 166.29 L1171.72 165.35 L1171.17 164.31 L1170.78 163.21 L1170.56 162.06 L1170.50 160.83 L1170.50 159.34 L1170.50 157.85 L1170.50 156.35 L1170.50 154.86 L1170.50 153.37 L1170.50 151.87 L1170.50 150.38 L1170.50 148.89 L1170.50 147.40 L1170.50 145.90 L1170.50 144.41 L1170.50 142.92 L1170.50 141.42 L1170.50 139.93 L1170.50 138.44 L1170.50 136.94 L1170.50 135.45 L1170.50 133.96 L1170.54 132.69 L1170.75 131.54 L1171.12 130.42 L1171.64 129.38 L1172.32 128.42 L1173.13 127.57 L1174.05 126.85 L1175.07 126.27 L1176.16 125.85 L1177.30 125.59 L1178.47 125.50 L1179.96 125.50 L1181.45 125.50 L1182.94 125.50 L1184.44 125.50 L1185.93 125.50 L1187.42 125.50 L1188.91 125.50 L1190.41 125.50 L1191.90 125.50 L1193.39 125.50 L1194.89 125.50 L1196.38 125.50 L1197.87 125.50 L1199.37 125.50 L1200.86 125.50 L1202.35 125.50 L1203.84 125.50 L1205.34 125.50 L1206.83 125.50 L1208.32 125.50 L1209.82 125.50 L1211.31 125.50 L1212.80 125.50 L1214.29 125.50 L1215.79 125.50 L1217.28 125.50 L1218.77 125.50 L1220.27 125.50 L1221.76 125.50 L1223.25 125.50 L1224.75 125.50 L1226.24 125.50 L1227.73 125.50 L1229.22 125.50 L1230.72 125.50 L1232.21 125.50 L1233.70 125.50 L1235.20 125.50 L1236.69 125.50 L1238.18 125.50 L1239.67 125.50 L1241.17 125.50 L1242.66 125.50 L1244.15 125.50 L1245.65 125.50 L1247.14 125.50 L1248.63 125.50 L1250.13 125.50 L1251.62 125.50 L1253.11 125.50 L1254.60 125.50 L1256.10 125.50 L1257.59 125.50 L1259.08 125.50 L1260.58 125.50 L1262.07 125.50 L1263.56 125.50 L1265.05 125.50 L1266.55 125.50 L1268.04 125.50 L1269.53 125.50 L1271.03 125.50 L1272.52 125.50 L1274.01 125.50 L1275.51 125.50 L1277.00 125.50 L1278.49 125.50 L1279.98 125.50 L1281.48 125.50 L1282.97 125.50 L1284.46 125.50 L1285.96 125.50 L1287.45 125.50 L1288.94 125.50 L1290.43 125.50 L1291.93 125.50 L1293.42 125.50 L1294.91 125.50 L1296.41 125.50 L1297.90 125.50 L1299.39 125.50 L1300.89 125.50 L1302.38 125.50 L1303.87 125.50 L1305.36 125.50 L1306.86 125.50 L1308.35 125.50 L1309.53 125.58 L1310.67 125.83 L1311.77 126.24 L1312.79 126.81 L1313.72 127.53 L1314.54 128.37 L1315.22 129.32 L1315.76 130.36 L1316.14 131.47 L1316.35 132.62 L1316.40 133.87 L1316.40 135.37 L1316.40 136.86 L1316.40 138.35 L1316.40 139.84 L1316.40 141.34 L1316.40 142.83 L1316.40 144.32 L1316.40 145.82 L1316.40 147.31 L1316.40 148.80 L1316.40 150.30 L1316.40 151.79 L1316.40 153.28 L1316.40 154.77 L1316.40 156.27 L1316.40 157.76 L1316.40 159.25 L1316.40 160.75 L1316.35 161.99 L1316.13 163.14 L1315.75 164.25 L1315.21 165.29 L1314.53 166.24 L1313.71 167.08 L1312.78 167.79 L1311.76 168.36 L1310.66 168.77 L1309.52 169.02 L1308.33 169.10 L1306.84 169.10 L1305.35 169.10 L1303.85 169.10 L1302.36 169.10 L1300.87 169.10 L1299.37 169.10 L1297.88 169.10 L1296.39 169.10 L1294.90 169.10 L1293.40 169.10 L1291.91 169.10 L1290.42 169.10 L1288.92 169.10 L1287.43 169.10 L1285.94 169.10 L1284.44 169.10 L1282.95 169.10 L1281.46 169.10 L1279.97 169.10 L1278.47 169.10 L1276.98 169.10 L1275.49 169.10 L1273.99 169.10 L1272.50 169.10 L1271.01 169.10 L1269.52 169.10 L1268.02 169.10 L1266.53 169.10 L1265.04 169.10 L1263.54 169.10 L1262.05 169.10 L1260.56 169.10 L1259.06 169.10 L1257.57 169.10 L1256.08 169.10 L1254.59 169.10 L1253.09 169.10 L1251.60 169.10 L1218.52 225.13 Z" fill="#fff" stroke="#ffff14" stroke-width="4.2" stroke-linejoin="miter" stroke-miterlimit="10"/>
<text x="1180.1" y="144.5" font-size="12.5" font-weight="bold" fill="#1a1a1a" text-anchor="start" textLength="127" lengthAdjust="spacingAndGlyphs">Broken Quasimodo</text>
<text x="1180.1" y="156.0" font-size="12.5" font-weight="bold" fill="#1a1a1a" text-anchor="start" textLength="105.2" lengthAdjust="spacingAndGlyphs">resistance level</text>
<path d="M789.00 311.70 L787.52 311.70 L786.03 311.70 L784.55 311.70 L783.06 311.70 L781.58 311.70 L780.09 311.70 L778.61 311.70 L777.12 311.70 L775.64 311.70 L774.15 311.70 L772.67 311.70 L771.18 311.70 L769.70 311.70 L768.21 311.70 L766.74 311.70 L765.58 311.61 L764.45 311.35 L763.36 310.92 L762.35 310.35 L761.43 309.63 L760.62 308.79 L759.95 307.84 L759.42 306.80 L759.05 305.69 L758.84 304.55 L758.80 303.29 L758.80 301.81 L758.80 300.32 L758.80 298.84 L758.80 297.35 L758.80 295.87 L758.80 294.38 L758.80 292.90 L758.80 291.42 L758.80 289.93 L758.80 288.52 L758.93 287.36 L759.22 286.24 L759.68 285.16 L760.28 284.17 L761.02 283.27 L761.89 282.49 L762.86 281.84 L763.91 281.34 L765.02 281.00 L766.17 280.82 L767.49 280.80 L768.97 280.80 L770.46 280.80 L771.94 280.80 L773.43 280.80 L774.91 280.80 L776.40 280.80 L777.88 280.80 L779.37 280.80 L780.85 280.80 L782.34 280.80 L783.82 280.80 L785.31 280.80 L786.79 280.80 L788.28 280.80 L789.76 280.80 L791.25 280.80 L792.73 280.80 L794.22 280.80 L795.70 280.80 L797.18 280.80 L798.67 280.80 L800.15 280.80 L801.64 280.80 L803.12 280.80 L804.61 280.80 L806.09 280.80 L807.58 280.80 L809.06 280.80 L810.55 280.80 L812.03 280.80 L813.52 280.80 L815.00 280.80 L816.49 280.80 L817.97 280.80 L819.46 280.80 L820.94 280.80 L822.43 280.80 L823.91 280.80 L825.40 280.80 L826.67 280.84 L827.82 281.03 L828.93 281.39 L829.97 281.91 L830.93 282.58 L831.78 283.37 L832.50 284.28 L833.09 285.29 L833.52 286.37 L833.79 287.51 L833.90 288.67 L833.90 290.12 L833.90 291.60 L833.90 293.08 L833.90 294.57 L833.90 296.05 L833.90 297.54 L833.90 299.02 L833.90 300.51 L833.90 301.99 L833.90 303.48 L833.84 304.69 L833.61 305.83 L833.22 306.93 L832.67 307.96 L831.98 308.90 L831.16 309.73 L830.23 310.43 L829.21 310.98 L828.12 311.39 L826.97 311.63 L825.79 311.70 L824.30 311.70 L822.82 311.70 L821.33 311.70 L819.85 311.70 L818.36 311.70 L816.88 311.70 L815.39 311.70 L813.91 311.70 L812.42 311.70 L810.94 311.70 L809.45 311.70 L807.97 311.70 L806.48 311.70 L805.00 311.70 L796.84 335.32 Z" fill="#fff" stroke="#ffff14" stroke-width="4.2" stroke-linejoin="miter" stroke-miterlimit="10"/>
<text x="796.35" y="299.9" font-size="12.5" font-weight="bold" fill="#1a1a1a" text-anchor="middle" textLength="56" lengthAdjust="spacingAndGlyphs">Demand</text>
<path d="M1255.12 281.73 L1255.10 280.42 L1255.10 278.94 L1255.10 277.46 L1255.10 275.99 L1255.10 274.51 L1255.10 273.03 L1255.10 271.55 L1255.10 270.07 L1255.10 268.59 L1255.10 267.12 L1255.10 265.69 L1255.22 264.54 L1255.50 263.41 L1255.94 262.34 L1256.53 261.34 L1257.26 260.44 L1258.11 259.65 L1259.06 258.99 L1260.10 258.48 L1261.21 258.13 L1262.35 257.93 L1263.63 257.90 L1265.10 257.90 L1266.58 257.90 L1268.06 257.90 L1269.54 257.90 L1271.02 257.90 L1272.50 257.90 L1273.98 257.90 L1275.45 257.90 L1276.93 257.90 L1278.41 257.90 L1279.89 257.90 L1281.37 257.90 L1282.85 257.90 L1284.32 257.90 L1285.80 257.90 L1287.28 257.90 L1288.76 257.90 L1290.24 257.90 L1291.72 257.90 L1293.20 257.90 L1294.67 257.90 L1296.15 257.90 L1297.63 257.90 L1299.11 257.90 L1300.59 257.90 L1302.07 257.90 L1303.54 257.90 L1305.02 257.90 L1306.50 257.90 L1307.98 257.90 L1309.46 257.90 L1310.94 257.90 L1312.42 257.90 L1313.89 257.90 L1315.37 257.90 L1316.85 257.90 L1318.33 257.90 L1319.72 257.91 L1320.87 258.04 L1321.99 258.33 L1323.06 258.79 L1324.05 259.39 L1324.94 260.13 L1325.72 261.00 L1326.36 261.96 L1326.86 263.01 L1327.20 264.12 L1327.37 265.27 L1327.40 266.57 L1327.40 268.05 L1327.40 269.53 L1327.40 271.01 L1327.40 272.48 L1327.40 273.96 L1327.40 275.44 L1327.40 276.92 L1327.40 278.40 L1327.40 279.88 L1327.40 281.30 L1327.28 282.46 L1327.01 283.58 L1326.57 284.66 L1325.98 285.65 L1325.25 286.56 L1324.40 287.35 L1323.44 288.00 L1322.40 288.52 L1321.30 288.87 L1320.15 289.06 L1318.88 289.10 L1317.40 289.10 L1315.92 289.10 L1314.45 289.10 L1312.97 289.10 L1311.49 289.10 L1310.01 289.10 L1308.53 289.10 L1307.05 289.10 L1305.58 289.10 L1304.10 289.10 L1302.62 289.10 L1301.14 289.10 L1299.66 289.10 L1298.18 289.10 L1296.70 289.10 L1295.23 289.10 L1293.75 289.10 L1292.27 289.10 L1290.79 289.10 L1289.31 289.10 L1287.83 289.10 L1286.36 289.10 L1284.88 289.10 L1283.40 289.10 L1281.92 289.10 L1280.44 289.10 L1278.96 289.10 L1277.48 289.10 L1276.01 289.10 L1274.53 289.10 L1273.05 289.10 L1271.57 289.10 L1270.09 289.10 L1268.61 289.10 L1267.14 289.10 L1265.66 289.10 L1264.18 289.10 L1262.79 289.09 L1199.86 303.37 Z" fill="#fff" stroke="#ffff14" stroke-width="4.2" stroke-linejoin="miter" stroke-miterlimit="10"/>
<text x="1291.25" y="277.2" font-size="12.5" font-weight="bold" fill="#1a1a1a" text-anchor="middle" textLength="54" lengthAdjust="spacingAndGlyphs">Support</text>
<path d="M1250.30 319.70 L1250.30 318.22 L1250.30 316.73 L1250.30 315.26 L1250.39 314.10 L1250.65 312.96 L1251.07 311.87 L1251.65 310.86 L1252.36 309.94 L1253.20 309.13 L1254.15 308.46 L1255.19 307.93 L1256.29 307.56 L1257.44 307.35 L1258.69 307.30 L1260.17 307.30 L1261.66 307.30 L1263.14 307.30 L1264.63 307.30 L1266.11 307.30 L1267.60 307.30 L1269.08 307.30 L1270.57 307.30 L1272.05 307.30 L1273.54 307.30 L1275.02 307.30 L1276.51 307.30 L1277.99 307.30 L1279.48 307.30 L1280.96 307.30 L1282.45 307.30 L1283.93 307.30 L1285.42 307.30 L1286.90 307.30 L1288.39 307.30 L1289.87 307.30 L1291.36 307.30 L1292.84 307.30 L1294.33 307.30 L1295.81 307.30 L1297.30 307.30 L1298.78 307.30 L1300.27 307.30 L1301.75 307.30 L1303.24 307.30 L1304.72 307.30 L1306.21 307.30 L1307.69 307.30 L1309.18 307.30 L1310.66 307.30 L1312.15 307.30 L1313.63 307.30 L1315.12 307.30 L1316.60 307.30 L1318.09 307.30 L1319.57 307.30 L1321.06 307.30 L1322.54 307.30 L1324.03 307.30 L1325.51 307.30 L1327.00 307.30 L1328.48 307.30 L1329.97 307.30 L1331.45 307.30 L1332.80 307.32 L1333.95 307.47 L1335.07 307.80 L1336.13 308.28 L1337.11 308.91 L1337.99 309.68 L1338.75 310.56 L1339.37 311.55 L1339.84 312.62 L1340.15 313.74 L1340.29 314.90 L1340.30 316.27 L1340.30 317.76 L1340.30 319.24 L1340.30 320.73 L1340.30 322.21 L1340.30 323.70 L1340.30 325.18 L1340.30 326.67 L1340.30 328.15 L1340.30 329.63 L1340.30 331.12 L1340.30 332.60 L1340.30 334.09 L1340.30 335.57 L1340.30 337.06 L1340.30 338.54 L1340.30 340.03 L1340.29 341.40 L1340.15 342.56 L1339.84 343.68 L1339.37 344.75 L1338.75 345.74 L1337.99 346.62 L1337.11 347.39 L1336.13 348.02 L1335.07 348.50 L1333.95 348.83 L1332.80 348.98 L1331.45 349.00 L1329.97 349.00 L1328.48 349.00 L1327.00 349.00 L1325.51 349.00 L1324.03 349.00 L1322.54 349.00 L1321.06 349.00 L1319.57 349.00 L1318.09 349.00 L1316.60 349.00 L1315.12 349.00 L1313.63 349.00 L1312.15 349.00 L1310.66 349.00 L1309.18 349.00 L1307.69 349.00 L1306.21 349.00 L1304.72 349.00 L1303.24 349.00 L1301.75 349.00 L1300.27 349.00 L1298.78 349.00 L1297.30 349.00 L1295.81 349.00 L1294.33 349.00 L1292.84 349.00 L1291.36 349.00 L1289.87 349.00 L1288.39 349.00 L1286.90 349.00 L1285.42 349.00 L1283.93 349.00 L1282.45 349.00 L1280.96 349.00 L1279.48 349.00 L1277.99 349.00 L1276.51 349.00 L1275.02 349.00 L1273.54 349.00 L1272.05 349.00 L1270.57 349.00 L1269.08 349.00 L1267.60 349.00 L1266.11 349.00 L1264.63 349.00 L1263.14 349.00 L1261.66 349.00 L1260.17 349.00 L1258.69 349.00 L1257.44 348.95 L1256.29 348.74 L1255.19 348.37 L1254.15 347.84 L1253.20 347.17 L1252.36 346.36 L1251.65 345.44 L1251.07 344.43 L1250.65 343.34 L1250.39 342.20 L1250.30 341.04 L1250.30 339.57 L1250.30 338.08 L1250.30 336.60 L1221.04 325.20 Z" fill="#fff" stroke="#ffff14" stroke-width="4.2" stroke-linejoin="miter" stroke-miterlimit="10"/>
<text x="1260.6" y="326.1" font-size="12.5" font-weight="bold" fill="#1a1a1a" text-anchor="start" textLength="70.2" lengthAdjust="spacingAndGlyphs">Long-term</text>
<text x="1260.6" y="337.6" font-size="12.5" font-weight="bold" fill="#1a1a1a" text-anchor="start" textLength="61" lengthAdjust="spacingAndGlyphs">trendline</text>
<rect x="1162.5" y="245.5" width="77" height="13" fill="#e2ebf2" stroke="#71889a" stroke-width="1"/><text x="1164.4" y="256" font-size="10.2" fill="#1a1a1a" textLength="73.5" lengthAdjust="spacingAndGlyphs">1.1533-1.1278</text>
<rect x="1158.5" y="304.9" width="37" height="13" fill="#e2ebf2" stroke="#71889a" stroke-width="1"/><text x="1160.4" y="315.4" font-size="10.2" fill="#1a1a1a" textLength="34" lengthAdjust="spacingAndGlyphs">1.0796</text>
<rect x="1162.5" y="336.8" width="77" height="13" fill="#e2ebf2" stroke="#71889a" stroke-width="1"/><text x="1164.4" y="347.3" font-size="10.2" fill="#1a1a1a" textLength="73.5" lengthAdjust="spacingAndGlyphs">1.0333-1.0502</text>
</g>
<path d="M1443 339.5h4" stroke="#555" stroke-width="1"/>
<text x="1450.3" y="344.09999999999997" font-size="10.7" fill="#555">1.05000</text>
<path d="M1443 295.5h4" stroke="#555" stroke-width="1"/>
<text x="1450.3" y="299.55999999999995" font-size="10.7" fill="#555">1.10000</text>
<path d="M1443 250.5h4" stroke="#555" stroke-width="1"/>
<text x="1450.3" y="255.01999999999992" font-size="10.7" fill="#555">1.15000</text>
<path d="M1443 206.5h4" stroke="#555" stroke-width="1"/>
<text x="1450.3" y="210.47999999999988" font-size="10.7" fill="#555">1.20000</text>
<path d="M1443 161.5h4" stroke="#555" stroke-width="1"/>
<text x="1450.3" y="165.94000000000003" font-size="10.7" fill="#555">1.25000</text>
<path d="M1443 116.5h4" stroke="#555" stroke-width="1"/>
<text x="1450.3" y="121.4" font-size="10.7" fill="#555">1.30000</text>
<path d="M1443 72.5h4" stroke="#555" stroke-width="1"/>
<text x="1450.3" y="76.85999999999997" font-size="10.7" fill="#555">1.35000</text>
<rect x="1443" y="220" width="50" height="16" fill="#000"/><path d="M1443 227.5h3" stroke="#fff" stroke-width="1"/><text x="1450.4" y="232" font-size="10.8" font-weight="bold" fill="#fff">1.17456</text>
<rect x="1443" y="252" width="50" height="16" fill="#0000ff"/><path d="M1443 259.5h3" stroke="#fff" stroke-width="1"/><text x="1450.4" y="264" font-size="10.8" font-weight="bold" fill="#fff">1.13949</text>
<path d="M857.5 359v4" stroke="#555" stroke-width="1"/>
<text x="857.7" y="374" font-size="11" fill="#555" text-anchor="middle" font-weight="bold">2015</text>
<path d="M940.5 359v4" stroke="#555" stroke-width="1"/>
<text x="940.4" y="374" font-size="11" fill="#555" text-anchor="middle">Jun</text>
<path d="M1065.5 359v4" stroke="#555" stroke-width="1"/>
<text x="1065" y="374" font-size="11" fill="#555" text-anchor="middle" font-weight="bold">2016</text>
<path d="M1152.5 359v4" stroke="#555" stroke-width="1"/>
<text x="1152" y="374" font-size="11" fill="#555" text-anchor="middle">Jun</text>
<path d="M1271.5 359v4" stroke="#555" stroke-width="1"/>
<text x="1271.5" y="374" font-size="11" fill="#555" text-anchor="middle" font-weight="bold">2017</text>
<path d="M1359.5 359v4" stroke="#555" stroke-width="1"/>
<text x="1359.6" y="374" font-size="11" fill="#555" text-anchor="middle">Jun</text>
<path d="M1435.5 359v4" stroke="#555" stroke-width="1"/>
<text x="1435.4" y="374" font-size="11" fill="#555" text-anchor="middle">16</text>
<rect x="751.5" y="406.5" width="742" height="337" fill="#fff" stroke="#555" stroke-width="1"/><path d="M1443.5 406V724.5H751" stroke="#555" stroke-width="1" fill="none"/>
<g clip-path="url(#cD)">
<rect x="740" y="504" width="284" height="22" fill="#fdeec3"/><rect x="741" y="505" width="282" height="20" fill="none" stroke="#000" stroke-width="2"/><rect x="742.5" y="506.5" width="279" height="17" fill="none" stroke="#6b5a2e" stroke-width="1"/>
<rect x="876" y="547" width="148" height="21" fill="#fdeec3"/><rect x="877" y="548" width="146" height="19" fill="none" stroke="#000" stroke-width="2"/><rect x="878.5" y="549.5" width="143" height="16" fill="none" stroke="#6b5a2e" stroke-width="1"/>
<path d="M751 423.3H1443" stroke="#ff0000" stroke-width="3"/>
<path d="M751 480H1022.6" stroke="#ff0000" stroke-width="2"/>
<path d="M753.5 686V706M756.5 653V696M760.5 628V678M764.5 635V665M767.5 623V645M771.5 631V663M775.5 566V707M779.5 570V615M782.5 580V615M786.5 598V618M790.5 556V623M793.5 519V570M797.5 523V553M801.5 542V565M804.5 551V575M808.5 563V587M812.5 571V591M816.5 575V590M819.5 565V589M823.5 537V582M827.5 515V548M830.5 495V530M834.5 491V520M838.5 487V516M841.5 495V525M845.5 483V526M849.5 486V527M853.5 489V515M856.5 485V515M860.5 479V520M864.5 505V553M867.5 538V560M871.5 531V556M875.5 520V548M878.5 506V540M882.5 505V545M886.5 501V555M890.5 533V570M893.5 544V569M897.5 523V552M901.5 515V547M904.5 512V538M908.5 480V522M912.5 452V484M915.5 430V468M919.5 455V477M923.5 468V501M927.5 473V506M930.5 501V506" stroke="#666" stroke-width="1" fill="none"/>
<path d="M752 690h3v2h-3zM755 659h3v33h-3zM759 643h3v17h-3zM763 639h3v10h-3zM774 580h3v68h-3zM785 605h3v5h-3zM789 564h3v42h-3zM792 531h3v33h-3zM818 574h3v14h-3zM822 541h3v34h-3zM826 524h3v18h-3zM829 509h3v16h-3zM833 504h3v5h-3zM844 503h3v5h-3zM852 503h3v6h-3zM870 546h3v4h-3zM874 533h3v4h-3zM877 516h3v18h-3zM892 549h3v18h-3zM896 538h3v12h-3zM900 530h3v9h-3zM903 519h3v12h-3zM907 485h3v35h-3zM911 455h3v26h-3zM929 503h3v2h-3z" fill="#0000ff"/>
<path d="M766 639h3v2h-3zM770 640h3v8h-3zM778 580h3v13h-3zM781 595h3v15h-3zM796 531h3v18h-3zM800 552h3v7h-3zM803 558h3v9h-3zM807 566h3v15h-3zM811 580h3v3h-3zM815 582h3v6h-3zM837 501h3v5h-3zM840 506h3v2h-3zM848 502h3v7h-3zM855 496h3v5h-3zM859 500h3v8h-3zM863 507h3v41h-3zM866 547h3v3h-3zM881 516h3v23h-3zM885 538h3v4h-3zM889 541h3v26h-3zM914 455h3v12h-3zM918 467h3v4h-3zM922 470h3v31h-3zM926 500h3v2h-3z" fill="#ff0000"/>
<text x="760.3" y="427.9" font-size="12.8" font-weight="bold" fill="#555" textLength="128" lengthAdjust="spacingAndGlyphs">Euro Fx/U.S. Dollar, D</text>
<path d="M1124.51 479.63 L1124.67 478.48 L1124.99 477.36 L1125.46 476.29 L1126.09 475.31 L1126.85 474.43 L1127.73 473.67 L1128.72 473.05 L1129.78 472.58 L1130.90 472.26 L1132.05 472.11 L1133.42 472.10 L1134.90 472.10 L1136.38 472.10 L1137.87 472.10 L1139.35 472.10 L1140.83 472.10 L1142.31 472.10 L1143.80 472.10 L1145.28 472.10 L1146.76 472.10 L1148.25 472.10 L1149.73 472.10 L1151.21 472.10 L1152.70 472.10 L1154.18 472.10 L1155.66 472.10 L1157.15 472.10 L1158.63 472.10 L1160.11 472.10 L1161.60 472.10 L1163.08 472.10 L1164.56 472.10 L1166.05 472.10 L1167.53 472.10 L1169.01 472.10 L1170.50 472.10 L1171.98 472.10 L1173.46 472.10 L1174.95 472.10 L1176.43 472.10 L1177.91 472.10 L1179.40 472.10 L1180.88 472.10 L1182.36 472.10 L1183.85 472.10 L1185.33 472.10 L1186.81 472.10 L1188.29 472.10 L1189.78 472.10 L1191.26 472.10 L1192.74 472.10 L1194.23 472.10 L1195.71 472.10 L1197.19 472.10 L1198.68 472.10 L1200.16 472.10 L1201.64 472.10 L1203.13 472.10 L1204.61 472.10 L1206.09 472.10 L1207.58 472.10 L1208.76 472.17 L1209.90 472.41 L1211.00 472.81 L1212.02 473.37 L1212.95 474.06 L1213.77 474.89 L1214.46 475.83 L1215.01 476.85 L1215.41 477.95 L1215.64 479.09 L1215.70 480.29 L1215.70 481.78 L1215.70 483.26 L1215.70 484.74 L1215.70 486.23 L1215.70 487.71 L1215.70 489.19 L1215.70 490.67 L1215.70 492.16 L1215.70 493.64 L1215.70 495.12 L1215.68 496.46 L1215.52 497.61 L1215.19 498.72 L1214.70 499.78 L1214.06 500.75 L1213.29 501.63 L1212.40 502.38 L1211.41 502.99 L1210.34 503.45 L1209.22 503.75 L1208.06 503.89 L1206.68 503.90 L1205.19 503.90 L1203.71 503.90 L1202.23 503.90 L1200.74 503.90 L1199.26 503.90 L1197.78 503.90 L1196.29 503.90 L1194.81 503.90 L1193.33 503.90 L1191.84 503.90 L1190.36 503.90 L1188.88 503.90 L1187.39 503.90 L1185.91 503.90 L1184.43 503.90 L1182.95 503.90 L1181.46 503.90 L1179.98 503.90 L1178.50 503.90 L1177.01 503.90 L1175.53 503.90 L1174.05 503.90 L1172.56 503.90 L1171.08 503.90 L1169.60 503.90 L1168.11 503.90 L1166.63 503.90 L1165.15 503.90 L1163.66 503.90 L1162.18 503.90 L1160.70 503.90 L1159.21 503.90 L1157.73 503.90 L1156.25 503.90 L1154.76 503.90 L1153.28 503.90 L1151.80 503.90 L1150.31 503.90 L1148.83 503.90 L1147.35 503.90 L1145.86 503.90 L1144.38 503.90 L1142.90 503.90 L1141.41 503.90 L1139.93 503.90 L1138.45 503.90 L1136.97 503.90 L1135.48 503.90 L1134.00 503.90 L1132.52 503.90 L1131.35 503.82 L1130.21 503.57 L1129.13 503.15 L1128.11 502.59 L1127.19 501.88 L1126.37 501.05 L1125.69 500.10 L1125.15 499.07 L1124.77 497.97 L1124.55 496.83 L1124.50 495.60 L1078.77 478.51 Z" fill="#fff" stroke="#ffff14" stroke-width="4.2" stroke-linejoin="miter" stroke-miterlimit="10"/>
<text x="1170.1" y="491.7" font-size="12.5" font-weight="bold" fill="#1a1a1a" text-anchor="middle" textLength="72" lengthAdjust="spacingAndGlyphs">Resistance</text>
<path d="M1239.29 459.71 L1240.69 459.70 L1242.18 459.70 L1243.67 459.70 L1245.16 459.70 L1246.64 459.70 L1248.13 459.70 L1249.62 459.70 L1251.11 459.70 L1252.60 459.70 L1254.09 459.70 L1255.58 459.70 L1257.07 459.70 L1258.56 459.70 L1260.04 459.70 L1261.53 459.70 L1263.02 459.70 L1264.51 459.70 L1266.00 459.70 L1267.49 459.70 L1268.98 459.70 L1270.47 459.70 L1271.96 459.70 L1273.44 459.70 L1274.93 459.70 L1276.42 459.70 L1277.91 459.70 L1279.40 459.70 L1280.89 459.70 L1282.38 459.70 L1283.87 459.70 L1285.36 459.70 L1286.84 459.70 L1288.33 459.70 L1289.82 459.70 L1291.31 459.70 L1292.80 459.70 L1294.29 459.70 L1295.78 459.70 L1297.27 459.70 L1298.76 459.70 L1300.24 459.70 L1301.73 459.70 L1303.22 459.70 L1304.71 459.70 L1306.20 459.70 L1307.69 459.70 L1309.18 459.70 L1310.67 459.70 L1312.16 459.70 L1313.64 459.70 L1314.93 459.73 L1316.08 459.93 L1317.20 460.28 L1318.25 460.80 L1319.21 461.46 L1320.06 462.26 L1320.79 463.17 L1321.38 464.18 L1321.82 465.26 L1322.09 466.40 L1322.20 467.56 L1322.20 469.01 L1322.20 470.50 L1322.20 471.99 L1322.20 473.48 L1322.20 474.97 L1322.20 476.46 L1322.20 477.94 L1322.20 479.43 L1322.20 480.92 L1322.20 482.41 L1322.13 483.62 L1321.90 484.76 L1321.50 485.86 L1320.95 486.89 L1320.25 487.83 L1319.43 488.65 L1318.49 489.35 L1317.46 489.90 L1316.36 490.30 L1315.22 490.53 L1314.01 490.60 L1312.52 490.60 L1311.03 490.60 L1309.54 490.60 L1308.06 490.60 L1306.57 490.60 L1305.08 490.60 L1303.59 490.60 L1302.10 490.60 L1300.61 490.60 L1299.12 490.60 L1297.63 490.60 L1296.14 490.60 L1294.66 490.60 L1293.17 490.60 L1291.68 490.60 L1290.19 490.60 L1288.70 490.60 L1287.21 490.60 L1285.72 490.60 L1284.23 490.60 L1282.74 490.60 L1281.26 490.60 L1279.77 490.60 L1278.28 490.60 L1276.79 490.60 L1275.30 490.60 L1273.81 490.60 L1272.32 490.60 L1270.83 490.60 L1269.34 490.60 L1267.86 490.60 L1266.37 490.60 L1264.88 490.60 L1263.39 490.60 L1261.90 490.60 L1260.41 490.60 L1258.92 490.60 L1257.43 490.60 L1255.94 490.60 L1254.46 490.60 L1252.97 490.60 L1251.48 490.60 L1249.99 490.60 L1248.50 490.60 L1247.01 490.60 L1245.52 490.60 L1244.03 490.60 L1242.54 490.60 L1241.06 490.60 L1239.57 490.60 L1238.41 490.51 L1237.27 490.25 L1236.18 489.83 L1235.16 489.26 L1234.24 488.54 L1233.43 487.70 L1232.76 486.74 L1232.23 485.70 L1231.85 484.59 L1231.64 483.44 L1231.60 482.19 L1231.60 480.70 L1231.60 479.21 L1231.60 477.72 L1231.60 476.23 L1231.60 474.74 L1231.60 473.26 L1231.60 471.77 L1231.60 470.28 L1231.60 468.79 L1231.61 467.39 L1226.45 437.52 Z" fill="#fff" stroke="#ffff14" stroke-width="4.2" stroke-linejoin="miter" stroke-miterlimit="10"/>
<text x="1276.9" y="478.8" font-size="12.5" font-weight="bold" fill="#1a1a1a" text-anchor="middle" textLength="72" lengthAdjust="spacingAndGlyphs">Resistance</text>
<path d="M1145.30 527.54 L1145.41 526.39 L1145.68 525.26 L1146.12 524.18 L1146.70 523.18 L1147.43 522.27 L1148.28 521.47 L1149.23 520.81 L1150.27 520.30 L1151.38 519.93 L1152.52 519.74 L1153.79 519.70 L1155.27 519.70 L1156.75 519.70 L1158.23 519.70 L1159.71 519.70 L1161.19 519.70 L1162.67 519.70 L1164.15 519.70 L1165.63 519.70 L1167.12 519.70 L1168.60 519.70 L1170.08 519.70 L1171.56 519.70 L1173.04 519.70 L1174.52 519.70 L1176.00 519.70 L1177.48 519.70 L1178.96 519.70 L1180.44 519.70 L1181.92 519.70 L1183.40 519.70 L1184.88 519.70 L1186.37 519.70 L1187.85 519.70 L1189.33 519.70 L1190.81 519.70 L1192.29 519.70 L1193.77 519.70 L1195.25 519.70 L1196.73 519.70 L1198.21 519.70 L1199.69 519.70 L1201.17 519.70 L1202.65 519.70 L1204.13 519.70 L1205.62 519.70 L1207.10 519.70 L1208.58 519.70 L1210.06 519.70 L1211.38 519.72 L1212.53 519.89 L1213.64 520.22 L1214.70 520.71 L1215.67 521.35 L1216.54 522.12 L1217.28 523.01 L1217.89 524.00 L1218.35 525.07 L1218.66 526.19 L1218.79 527.34 L1218.80 528.73 L1218.80 530.21 L1218.80 531.69 L1218.80 533.17 L1218.80 534.65 L1218.80 536.13 L1218.80 537.61 L1218.80 539.09 L1218.80 540.57 L1218.80 542.05 L1218.74 543.27 L1218.52 544.41 L1218.13 545.50 L1217.59 546.53 L1216.90 547.47 L1216.09 548.30 L1215.17 549.00 L1214.15 549.57 L1213.06 549.97 L1211.93 550.22 L1210.76 550.30 L1209.28 550.30 L1207.80 550.30 L1206.32 550.30 L1204.83 550.30 L1203.35 550.30 L1201.87 550.30 L1200.39 550.30 L1198.91 550.30 L1197.43 550.30 L1195.95 550.30 L1194.47 550.30 L1192.99 550.30 L1191.51 550.30 L1190.03 550.30 L1188.55 550.30 L1187.07 550.30 L1185.58 550.30 L1184.10 550.30 L1182.62 550.30 L1181.14 550.30 L1179.66 550.30 L1178.18 550.30 L1176.70 550.30 L1175.22 550.30 L1173.74 550.30 L1172.26 550.30 L1170.78 550.30 L1169.30 550.30 L1167.82 550.30 L1166.33 550.30 L1164.85 550.30 L1163.37 550.30 L1161.89 550.30 L1160.41 550.30 L1158.93 550.30 L1157.45 550.30 L1155.97 550.30 L1154.49 550.30 L1153.07 550.30 L1151.91 550.18 L1150.79 549.90 L1149.71 549.45 L1148.72 548.86 L1147.81 548.12 L1147.03 547.27 L1146.38 546.31 L1145.87 545.26 L1145.52 544.15 L1145.33 543.01 L1113.83 532.69 Z" fill="#fff" stroke="#ffff14" stroke-width="4.2" stroke-linejoin="miter" stroke-miterlimit="10"/>
<text x="1182.0500000000002" y="538.7" font-size="12.5" font-weight="bold" fill="#1a1a1a" text-anchor="middle" textLength="56" lengthAdjust="spacingAndGlyphs">Demand</text>
<path d="M1130.71 577.29 L1130.84 576.13 L1131.14 575.00 L1131.59 573.92 L1132.20 572.93 L1132.95 572.03 L1133.82 571.26 L1134.80 570.62 L1135.86 570.12 L1136.98 569.79 L1138.13 569.62 L1139.46 569.60 L1140.95 569.60 L1142.44 569.60 L1143.92 569.60 L1145.41 569.60 L1146.90 569.60 L1148.39 569.60 L1149.87 569.60 L1151.36 569.60 L1152.85 569.60 L1154.34 569.60 L1155.82 569.60 L1157.31 569.60 L1158.80 569.60 L1160.29 569.60 L1161.77 569.60 L1163.26 569.60 L1164.75 569.60 L1166.23 569.60 L1167.72 569.60 L1169.21 569.60 L1170.70 569.60 L1172.18 569.60 L1173.67 569.60 L1175.16 569.60 L1176.65 569.60 L1178.13 569.60 L1179.62 569.60 L1181.11 569.60 L1182.60 569.60 L1184.08 569.60 L1185.57 569.60 L1187.06 569.60 L1188.55 569.60 L1190.03 569.60 L1191.52 569.60 L1193.01 569.60 L1194.50 569.60 L1195.96 569.60 L1197.13 569.69 L1198.27 569.96 L1199.35 570.38 L1200.37 570.96 L1201.28 571.68 L1202.09 572.53 L1202.76 573.48 L1203.29 574.53 L1203.65 575.63 L1203.86 576.78 L1203.90 578.04 L1203.90 579.53 L1203.90 581.02 L1203.90 582.51 L1203.90 583.99 L1203.90 585.48 L1203.90 586.97 L1203.90 588.46 L1203.90 589.94 L1203.90 591.43 L1203.87 592.72 L1203.68 593.87 L1203.32 594.98 L1202.81 596.03 L1202.15 596.99 L1201.36 597.85 L1200.45 598.58 L1199.44 599.17 L1198.36 599.61 L1197.23 599.89 L1196.06 600.00 L1194.62 600.00 L1193.13 600.00 L1191.65 600.00 L1190.16 600.00 L1188.67 600.00 L1187.18 600.00 L1185.70 600.00 L1184.21 600.00 L1182.72 600.00 L1181.23 600.00 L1179.75 600.00 L1178.26 600.00 L1176.77 600.00 L1175.28 600.00 L1173.80 600.00 L1172.31 600.00 L1170.82 600.00 L1169.33 600.00 L1167.85 600.00 L1166.36 600.00 L1164.87 600.00 L1163.39 600.00 L1161.90 600.00 L1160.41 600.00 L1158.92 600.00 L1157.44 600.00 L1155.95 600.00 L1154.46 600.00 L1152.97 600.00 L1151.49 600.00 L1150.00 600.00 L1148.51 600.00 L1147.02 600.00 L1145.54 600.00 L1144.05 600.00 L1142.56 600.00 L1141.07 600.00 L1139.59 600.00 L1138.23 599.99 L1137.07 599.83 L1135.95 599.51 L1134.89 599.03 L1133.90 598.40 L1133.02 597.64 L1132.26 596.75 L1131.64 595.76 L1131.17 594.70 L1101.95 572.80 Z" fill="#fff" stroke="#ffff14" stroke-width="4.2" stroke-linejoin="miter" stroke-miterlimit="10"/>
<text x="1167.3" y="588.5" font-size="12.5" font-weight="bold" fill="#1a1a1a" text-anchor="middle" textLength="56" lengthAdjust="spacingAndGlyphs">Demand</text>
<rect x="1025.5" y="470.5" width="37" height="13" fill="#e2ebf2" stroke="#71889a" stroke-width="1"/><text x="1027.4" y="481" font-size="10.2" fill="#1a1a1a" textLength="34" lengthAdjust="spacingAndGlyphs">1.1460</text>
<rect x="1025.5" y="516.5" width="77" height="13" fill="#e2ebf2" stroke="#71889a" stroke-width="1"/><text x="1027.4" y="527" font-size="10.2" fill="#1a1a1a" textLength="73.5" lengthAdjust="spacingAndGlyphs">1.1385-1.1332</text>
<rect x="1025.5" y="555.5" width="77" height="13" fill="#e2ebf2" stroke="#71889a" stroke-width="1"/><text x="1027.4" y="566" font-size="10.2" fill="#1a1a1a" textLength="73.5" lengthAdjust="spacingAndGlyphs">1.1215-1.1264</text>
</g>
<path d="M1443 714.5h4" stroke="#555" stroke-width="1"/>
<text x="1450.3" y="719.3899999999994" font-size="10.7" fill="#555">1.08000</text>
<path d="M1443 679.5h4" stroke="#555" stroke-width="1"/>
<text x="1450.3" y="683.7199999999993" font-size="10.7" fill="#555">1.09000</text>
<path d="M1443 643.5h4" stroke="#555" stroke-width="1"/>
<text x="1450.3" y="648.0499999999994" font-size="10.7" fill="#555">1.10000</text>
<path d="M1443 607.5h4" stroke="#555" stroke-width="1"/>
<text x="1450.3" y="612.3799999999993" font-size="10.7" fill="#555">1.11000</text>
<path d="M1443 572.5h4" stroke="#555" stroke-width="1"/>
<text x="1450.3" y="576.7099999999992" font-size="10.7" fill="#555">1.12000</text>
<path d="M1443 536.5h4" stroke="#555" stroke-width="1"/>
<text x="1450.3" y="541.0399999999993" font-size="10.7" fill="#555">1.13000</text>
<path d="M1443 465.5h4" stroke="#555" stroke-width="1"/>
<text x="1450.3" y="469.6999999999992" font-size="10.7" fill="#555">1.15000</text>
<path d="M1443 429.5h4" stroke="#555" stroke-width="1"/>
<text x="1450.3" y="434.0299999999992" font-size="10.7" fill="#555">1.16000</text>
<text x="1450.3" y="434.03" font-size="10.7" fill="#555">1.16000</text>
<rect x="1443" y="416" width="50" height="16" fill="#ff0000"/><path d="M1443 423.5h3" stroke="#fff" stroke-width="1"/><text x="1450.4" y="428" font-size="10.8" font-weight="bold" fill="#fff">1.16150</text>
<rect x="1443" y="495" width="50" height="16" fill="#0000ff"/><path d="M1443 502.5h3" stroke="#fff" stroke-width="1"/><text x="1450.4" y="507" font-size="10.8" font-weight="bold" fill="#fff">1.13949</text>
<path d="M834.5 724v4" stroke="#555" stroke-width="1"/>
<text x="834.8" y="739" font-size="11" fill="#555" text-anchor="middle" font-weight="bold">Apr</text>
<path d="M912.5 724v4" stroke="#555" stroke-width="1"/>
<text x="912.7" y="739" font-size="11" fill="#555" text-anchor="middle" font-weight="bold">May</text>
<path d="M993.5 724v4" stroke="#555" stroke-width="1"/>
<text x="993" y="739" font-size="11" fill="#555" text-anchor="middle" font-weight="bold">Jun</text>
<path d="M1075.5 724v4" stroke="#555" stroke-width="1"/>
<text x="1075.3" y="739" font-size="11" fill="#555" text-anchor="middle" font-weight="bold">Jul</text>
<path d="M1152.5 724v4" stroke="#555" stroke-width="1"/>
<text x="1152.7" y="739" font-size="11" fill="#555" text-anchor="middle" font-weight="bold">Aug</text>
<path d="M1237.5 724v4" stroke="#555" stroke-width="1"/>
<text x="1237.5" y="739" font-size="11" fill="#555" text-anchor="middle" font-weight="bold">Sep</text>
<path d="M1318.5 724v4" stroke="#555" stroke-width="1"/>
<text x="1318.9" y="739" font-size="11" fill="#555" text-anchor="middle" font-weight="bold">Oct</text>
<path d="M1397.5 724v4" stroke="#555" stroke-width="1"/>
<text x="1397.7" y="739" font-size="11" fill="#555" text-anchor="middle" font-weight="bold">Nov</text>
<text x="2.2" y="14.7" font-size="12.5" fill="#111" textLength="388.5" lengthAdjust="spacingAndGlyphs"><tspan font-weight="bold" fill="#2f8ac4">ICmarkets</tspan> published on TradingView.com, May 08, 2016 22:22 UTC</text>
<text x="4.2" y="32.7" font-size="12.5" font-weight="bold" fill="#111" textLength="97.8" lengthAdjust="spacingAndGlyphs">FX:EURUSD, 240</text>
<text x="106.30000000000001" y="32.7" font-size="12.5" fill="#111" textLength="47.3" lengthAdjust="spacingAndGlyphs">1.13949</text>
<path d="M156.3 24.1H167.7L162.0 34.5Z" fill="#8b0000"/>
<text x="170.3" y="32.7" font-size="12.5" fill="#111" textLength="112.19999999999997" lengthAdjust="spacingAndGlyphs">&#8722;0.00040 (&#8722;0.04%)</text>
<text x="287.3" y="32.7" font-size="12.5" font-weight="bold" fill="#111">O:</text>
<text x="301.4" y="32.7" font-size="12.5" fill="#a11b1b" textLength="46.2" lengthAdjust="spacingAndGlyphs">1.13927</text>
<text x="351.6" y="32.7" font-size="12.5" font-weight="bold" fill="#111">H:</text>
<text x="365.5" y="32.7" font-size="12.5" fill="#a11b1b" textLength="48.2" lengthAdjust="spacingAndGlyphs">1.13990</text>
<text x="418.0" y="32.7" font-size="12.5" font-weight="bold" fill="#111">L:</text>
<text x="427.29999999999995" y="32.7" font-size="12.5" fill="#a11b1b" textLength="48.10000000000004" lengthAdjust="spacingAndGlyphs">1.13918</text>
<text x="480.2" y="32.7" font-size="12.5" font-weight="bold" fill="#111">C:</text>
<text x="491.7" y="32.7" font-size="12.5" fill="#a11b1b" textLength="48.199999999999946" lengthAdjust="spacingAndGlyphs">1.13949</text>
<text x="752.4" y="32.7" font-size="12.5" font-weight="bold" fill="#111" textLength="86.5" lengthAdjust="spacingAndGlyphs">FX:EURUSD, W</text>
<text x="843.1999999999999" y="32.7" font-size="12.5" fill="#111" textLength="47.40000000000005" lengthAdjust="spacingAndGlyphs">1.13949</text>
<path d="M894.3 24.1H904.4L899.3499999999999 34.5Z" fill="#8b0000"/>
<text x="907.4" y="32.7" font-size="12.5" fill="#111" textLength="111.99999999999996" lengthAdjust="spacingAndGlyphs">&#8722;0.00040 (&#8722;0.04%)</text>
<text x="1024.4" y="32.7" font-size="12.5" font-weight="bold" fill="#111">O:</text>
<text x="1038.0" y="32.7" font-size="12.5" fill="#a11b1b" textLength="47.40000000000005" lengthAdjust="spacingAndGlyphs">1.13927</text>
<text x="1089.3" y="32.7" font-size="12.5" font-weight="bold" fill="#111">H:</text>
<text x="1102.2" y="32.7" font-size="12.5" fill="#a11b1b" textLength="48.100000000000094" lengthAdjust="spacingAndGlyphs">1.13990</text>
<text x="1155.3" y="32.7" font-size="12.5" font-weight="bold" fill="#111">L:</text>
<text x="1165.0" y="32.7" font-size="12.5" fill="#a11b1b" textLength="48.100000000000094" lengthAdjust="spacingAndGlyphs">1.13918</text>
<text x="1217.4" y="32.7" font-size="12.5" font-weight="bold" fill="#111">C:</text>
<text x="1229.2" y="32.7" font-size="12.5" fill="#a11b1b" textLength="48.100000000000094" lengthAdjust="spacingAndGlyphs">1.13949</text>
<text x="752.4" y="396.9" font-size="12.5" font-weight="bold" fill="#111" textLength="81.80000000000007" lengthAdjust="spacingAndGlyphs">FX:EURUSD, D</text>
<text x="838.9" y="396.9" font-size="12.5" fill="#111" textLength="48.09999999999998" lengthAdjust="spacingAndGlyphs">1.13949</text>
<path d="M890 388.29999999999995H899.7L894.85 398.7Z" fill="#8b0000"/>
<text x="903.4" y="396.9" font-size="12.5" fill="#111" textLength="113.40000000000005" lengthAdjust="spacingAndGlyphs">&#8722;0.00040 (&#8722;0.04%)</text>
<text x="1020.1" y="396.9" font-size="12.5" font-weight="bold" fill="#111">O:</text>
<text x="1034.4" y="396.9" font-size="12.5" fill="#a11b1b" textLength="46.2" lengthAdjust="spacingAndGlyphs">1.13927</text>
<text x="1085.0" y="396.9" font-size="12.5" font-weight="bold" fill="#111">H:</text>
<text x="1098.6000000000001" y="396.9" font-size="12.5" fill="#a11b1b" textLength="47.7" lengthAdjust="spacingAndGlyphs">1.13990</text>
<text x="1151.0" y="396.9" font-size="12.5" font-weight="bold" fill="#111">L:</text>
<text x="1161.4" y="396.9" font-size="12.5" fill="#a11b1b" textLength="47.2" lengthAdjust="spacingAndGlyphs">1.13918</text>
<text x="1213.1" y="396.9" font-size="12.5" font-weight="bold" fill="#111">C:</text>
<text x="1225.6000000000001" y="396.9" font-size="12.5" fill="#a11b1b" textLength="46.99999999999996" lengthAdjust="spacingAndGlyphs">1.13949</text>
</svg></body></html>
